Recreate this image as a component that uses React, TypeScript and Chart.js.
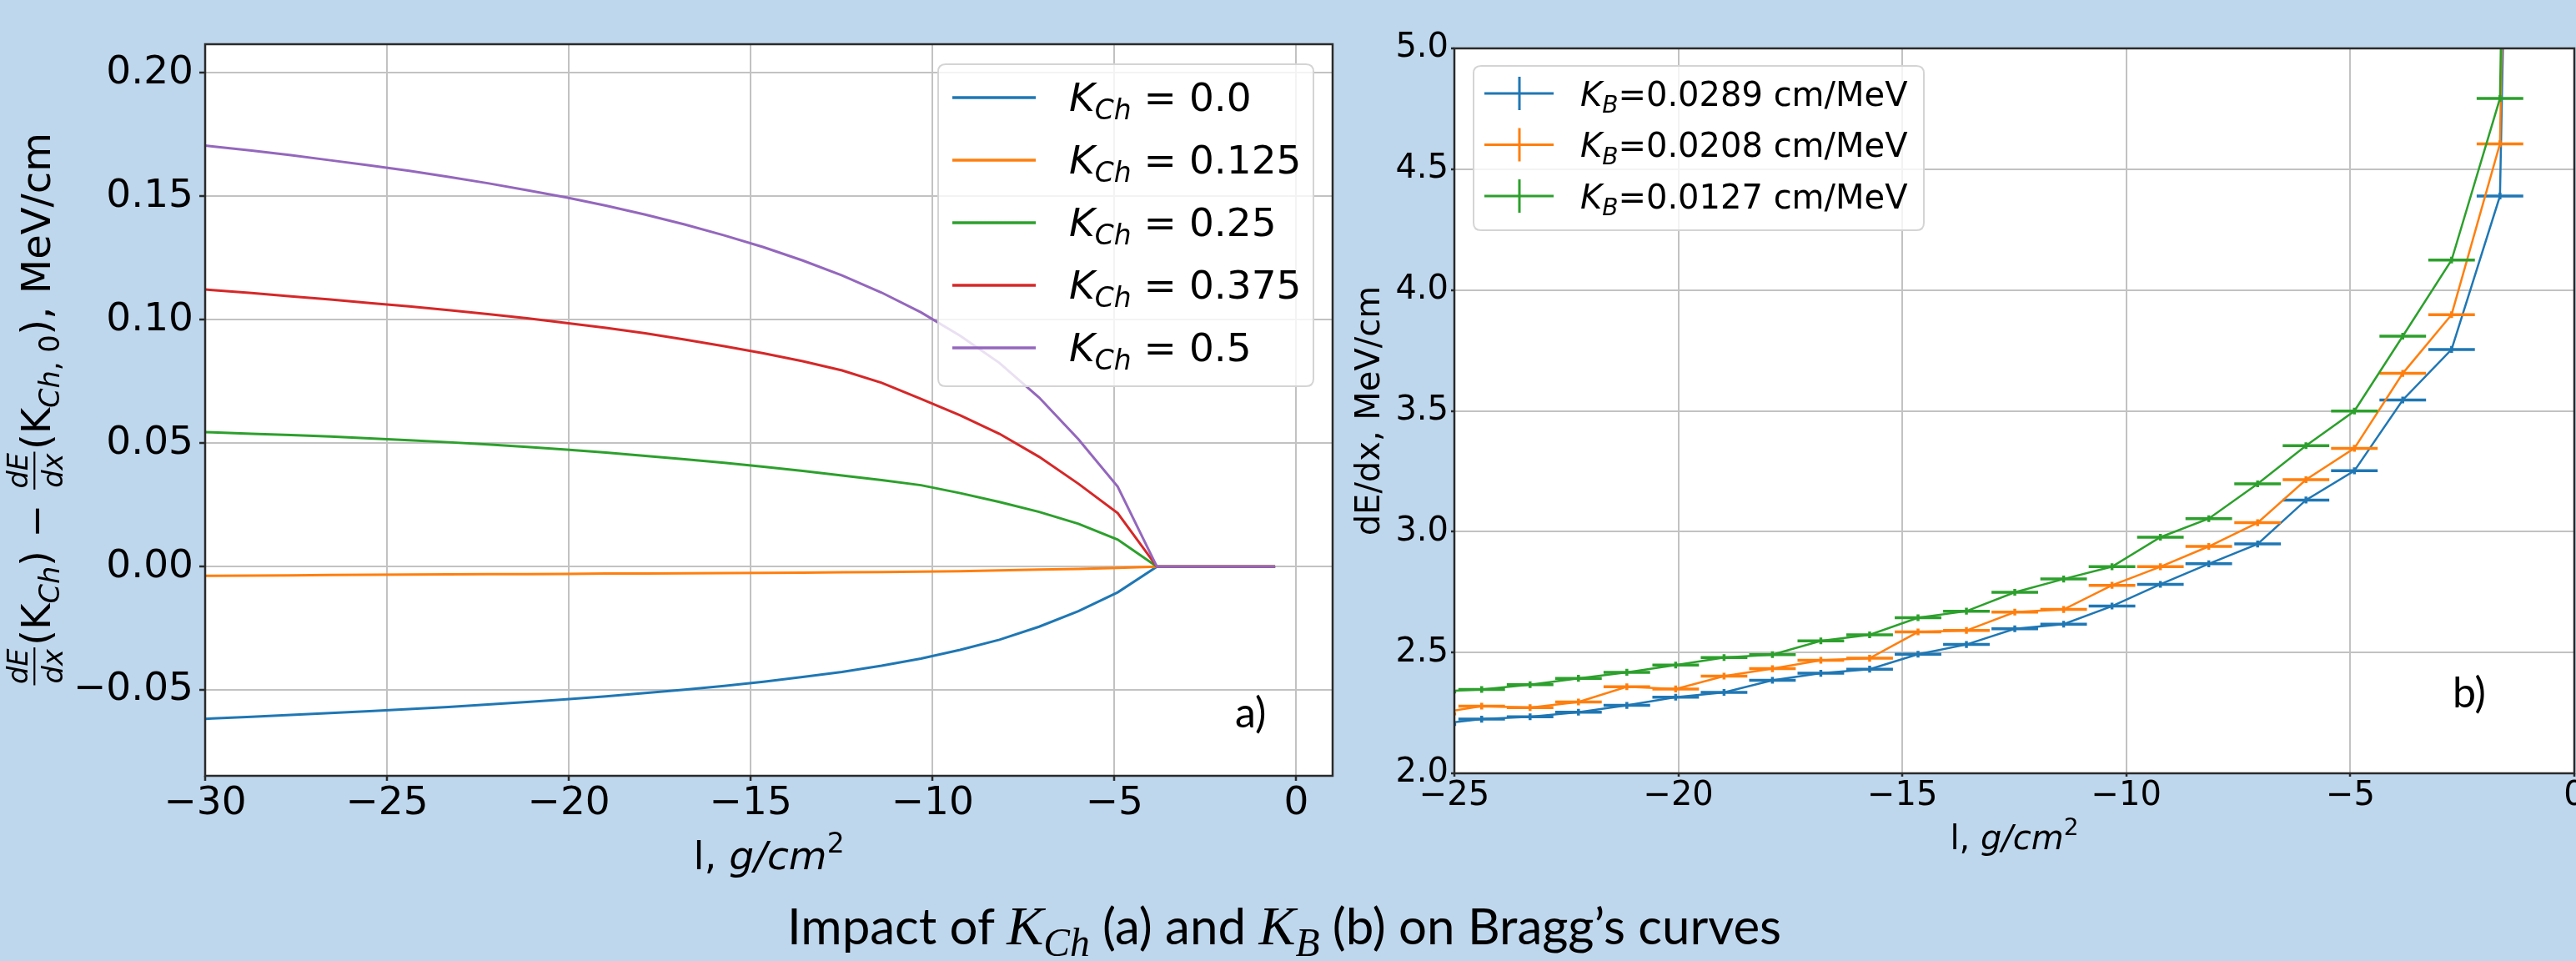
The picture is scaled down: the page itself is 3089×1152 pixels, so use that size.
import React, { useEffect, useRef } from "react";
import { Chart, registerables } from "chart.js";

Chart.register(...registerables);

const BG = "#BFD7ED";
const COLORS = ["#1f77b4", "#ff7f0e", "#2ca02c", "#d62728", "#9467bd"];
const FAM = "'DejaVu Sans'";

// ---------------- Panel a) ----------------
const A_X = [-30.89, -29.8, -28.72, -27.64, -26.56, -25.48, -24.39, -23.31, -22.23, -21.15, -20.06, -18.98, -17.9, -16.82, -15.73, -14.65, -13.57, -12.49, -11.4, -10.32, -9.24, -8.16, -7.07, -5.99, -4.91, -3.83, -2.74, -1.66, -0.58];
const A_KCH_000 = [-0.0622, -0.0615, -0.0608, -0.06, -0.0593, -0.0585, -0.0577, -0.0568, -0.0558, -0.0548, -0.0537, -0.0525, -0.0512, -0.0498, -0.0483, -0.0466, -0.0447, -0.0426, -0.0401, -0.0372, -0.0337, -0.0296, -0.0243, -0.018, -0.0104, 0, 0, 0, 0];
const A_KCH_0125 = [-0.0038, -0.0037, -0.0036, -0.0035, -0.0034, -0.0033, -0.0032, -0.0031, -0.003, -0.003, -0.0029, -0.0028, -0.0028, -0.0027, -0.0026, -0.0025, -0.0024, -0.0023, -0.0022, -0.002, -0.0018, -0.0015, -0.0012, -0.0009, -0.0005, 0, 0, 0, 0];
const A_KCH_025 = [0.0548, 0.0544, 0.0538, 0.0533, 0.0527, 0.052, 0.0512, 0.0504, 0.0495, 0.0485, 0.0474, 0.0462, 0.0449, 0.0435, 0.0421, 0.0405, 0.0388, 0.0369, 0.0351, 0.033, 0.0298, 0.0262, 0.0222, 0.0174, 0.011, 0, 0, 0, 0];
const A_KCH_0375 = [0.1133, 0.112, 0.1108, 0.1095, 0.1082, 0.1068, 0.1054, 0.1039, 0.1023, 0.1006, 0.0987, 0.0967, 0.0945, 0.092, 0.0893, 0.0864, 0.0832, 0.0795, 0.0745, 0.068, 0.0613, 0.0538, 0.0445, 0.0336, 0.0217, 0, 0, 0, 0];
const A_KCH_05 = [0.172, 0.1702, 0.1685, 0.1667, 0.1646, 0.1625, 0.1603, 0.1579, 0.1553, 0.1525, 0.1495, 0.1462, 0.1426, 0.1386, 0.1342, 0.1294, 0.124, 0.118, 0.111, 0.103, 0.0935, 0.0825, 0.0685, 0.0516, 0.0324, 0, 0, 0, 0];
const KCH_LABELS = ["0.0", "0.125", "0.25", "0.375", "0.5"];
const A_X_TICKS = [-30, -25, -20, -15, -10, -5, 0];
const A_X_TICK_LABELS = ["\u221230", "\u221225", "\u221220", "\u221215", "\u221210", "\u22125", "0"];
const A_Y_TICKS = [-0.05, 0, 0.05, 0.1, 0.15, 0.2];
const A_Y_TICK_LABELS = ["\u22120.05", "0.00", "0.05", "0.10", "0.15", "0.20"];

// ---------------- Panel b) ----------------
const B_X = [-25.48, -24.39, -23.31, -22.23, -21.15, -20.06, -18.98, -17.9, -16.82, -15.73, -14.65, -13.57, -12.49, -11.4, -10.32, -9.24, -8.16, -7.07, -5.99, -4.91, -3.83, -2.74, -1.66, -0.58];
const B_KB_0289 = [2.202, 2.224, 2.234, 2.253, 2.281, 2.315, 2.335, 2.385, 2.414, 2.431, 2.493, 2.533, 2.598, 2.617, 2.692, 2.782, 2.867, 2.949, 3.131, 3.252, 3.545, 3.754, 4.389, 14.5];
const B_KB_0208 = [2.246, 2.278, 2.272, 2.295, 2.358, 2.349, 2.402, 2.433, 2.468, 2.476, 2.585, 2.591, 2.667, 2.678, 2.778, 2.855, 2.939, 3.037, 3.215, 3.345, 3.655, 3.898, 4.605, 15.5];
const B_KB_0127 = [2.337, 2.347, 2.367, 2.393, 2.418, 2.448, 2.479, 2.491, 2.548, 2.573, 2.644, 2.671, 2.749, 2.804, 2.855, 2.977, 3.054, 3.198, 3.356, 3.499, 3.809, 4.124, 4.793, 16.5];
const B_X_HALF_WIDTH = 0.52;
const B_Y_ERR = 0.014;
const KB_LABELS = ["0.0289", "0.0208", "0.0127"];
const B_X_TICKS = [-25, -20, -15, -10, -5, 0];
const B_X_TICK_LABELS = ["\u221225", "\u221220", "\u221215", "\u221210", "\u22125", "0"];
const B_Y_TICKS = [2.0, 2.5, 3.0, 3.5, 4.0, 4.5, 5.0];
const B_Y_TICK_LABELS = ["2.0", "2.5", "3.0", "3.5", "4.0", "4.5", "5.0"];

// ---------------- rich text helper ----------------
type Seg = { t?: string; it?: boolean; sub?: boolean; sup?: boolean; num?: string; den?: string };

function segFont(s: Seg, size: number) {
  const sz = s.sub || s.sup ? size * 0.7 : size;
  return `${s.it ? "italic " : ""}${sz}px ${FAM}`;
}
function segW(ctx: CanvasRenderingContext2D, s: Seg, size: number) {
  if (s.num !== undefined) {
    ctx.font = `italic ${size * 0.7}px ${FAM}`;
    return Math.max(ctx.measureText(s.num).width, ctx.measureText(s.den || "").width) + size * 0.16;
  }
  ctx.font = segFont(s, size);
  return ctx.measureText(s.t || "").width;
}
function drawRich(ctx: CanvasRenderingContext2D, segs: Seg[], x: number, y: number, size: number, align: string) {
  const ws = segs.map((s) => segW(ctx, s, size));
  const total = ws.reduce((a, b) => a + b, 0);
  let cx = align === "center" ? x - total / 2 : align === "right" ? x - total : x;
  ctx.save();
  ctx.fillStyle = "#000";
  ctx.strokeStyle = "#000";
  ctx.textAlign = "left";
  ctx.textBaseline = "alphabetic";
  segs.forEach((s, i) => {
    const w = ws[i];
    if (s.num !== undefined) {
      ctx.font = `italic ${size * 0.7}px ${FAM}`;
      const nw = ctx.measureText(s.num).width;
      const dw = ctx.measureText(s.den || "").width;
      ctx.fillText(s.num, cx + (w - nw) / 2, y - 0.56 * size);
      ctx.fillText(s.den || "", cx + (w - dw) / 2, y + 0.31 * size);
      ctx.lineWidth = Math.max(1.5, size * 0.045);
      ctx.beginPath();
      ctx.moveTo(cx + size * 0.05, y - 0.39 * size);
      ctx.lineTo(cx + w - size * 0.05, y - 0.39 * size);
      ctx.stroke();
    } else {
      ctx.font = segFont(s, size);
      const dy = s.sub ? 0.22 * size : s.sup ? -0.42 * size : 0;
      ctx.fillText(s.t || "", cx, y + dy);
    }
    cx += w;
  });
  ctx.restore();
  return total;
}

function roundBox(ctx: CanvasRenderingContext2D, x: number, y: number, w: number, h: number, r: number) {
  ctx.beginPath();
  ctx.moveTo(x + r, y);
  ctx.lineTo(x + w - r, y);
  ctx.quadraticCurveTo(x + w, y, x + w, y + r);
  ctx.lineTo(x + w, y + h - r);
  ctx.quadraticCurveTo(x + w, y + h, x + w - r, y + h);
  ctx.lineTo(x + r, y + h);
  ctx.quadraticCurveTo(x, y + h, x, y + h - r);
  ctx.lineTo(x, y + r);
  ctx.quadraticCurveTo(x, y, x + r, y);
  ctx.closePath();
}

const bgPlugin = {
  id: "plotBg",
  beforeDraw(chart: any) {
    const { ctx, chartArea: a } = chart;
    ctx.save();
    ctx.fillStyle = "#ffffff";
    ctx.fillRect(a.left, a.top, a.right - a.left, a.bottom - a.top);
    ctx.restore();
  },
};

function drawSpines(chart: any) {
  const { ctx, chartArea: a } = chart;
  ctx.save();
  ctx.strokeStyle = "#2a2a2a";
  ctx.lineWidth = 2.5;
  ctx.strokeRect(a.left, a.top, a.right - a.left, a.bottom - a.top);
  ctx.restore();
}

const errorBarPlugin = {
  id: "errorBars",
  afterDatasetDraw(chart: any, args: any) {
    const ds: any = chart.data.datasets[args.index];
    if (!ds.xHalf) return;
    const { ctx, chartArea: a, scales } = chart;
    const xs = scales.x;
    const ys = scales.y;
    ctx.save();
    ctx.beginPath();
    ctx.rect(a.left, a.top, a.right - a.left, a.bottom - a.top);
    ctx.clip();
    ctx.strokeStyle = ds.borderColor;
    ctx.lineWidth = 3.5;
    ds.data.forEach((p: any) => {
      const px = xs.getPixelForValue(p.x);
      const py = ys.getPixelForValue(p.y);
      const x0 = xs.getPixelForValue(p.x - ds.xHalf);
      const x1 = xs.getPixelForValue(p.x + ds.xHalf);
      const y0 = ys.getPixelForValue(p.y - ds.yErr);
      const y1 = ys.getPixelForValue(p.y + ds.yErr);
      ctx.beginPath();
      ctx.moveTo(x0, py);
      ctx.lineTo(x1, py);
      ctx.moveTo(px, y0);
      ctx.lineTo(px, y1);
      ctx.stroke();
    });
    ctx.restore();
  },
};

const decorA = {
  id: "decorA",
  afterDraw(chart: any) {
    const { ctx, chartArea: a } = chart;
    drawSpines(chart);
    const bw = 450, bh = 386;
    const bx = a.right - 23 - bw, by = a.top + 24;
    ctx.save();
    roundBox(ctx, bx, by, bw, bh, 9);
    ctx.fillStyle = "rgba(255,255,255,0.8)";
    ctx.fill();
    ctx.strokeStyle = "#d4d4d4";
    ctx.lineWidth = 2;
    ctx.stroke();
    KCH_LABELS.forEach((lab, i) => {
      const ry = by + 40 + i * 75;
      ctx.strokeStyle = COLORS[i];
      ctx.lineWidth = 3.5;
      ctx.beginPath();
      ctx.moveTo(bx + 17, ry);
      ctx.lineTo(bx + 117, ry);
      ctx.stroke();
      drawRich(ctx, [{ t: "K", it: true }, { t: "Ch", it: true, sub: true }, { t: " = " + lab }], bx + 157, ry + 16, 47, "left");
    });
    ctx.restore();
    ctx.save();
    ctx.fillStyle = "#000";
    ctx.font = "50px Lato";
    ctx.fillText("a)", 1481, 872);
    ctx.restore();
    ctx.save();
    ctx.translate(60, (a.top + a.bottom) / 2);
    ctx.rotate(-Math.PI / 2);
    drawRich(
      ctx,
      [
        { num: "dE", den: "dx" },
        { t: "(K" },
        { t: "Ch", it: true, sub: true },
        { t: ") \u2212 " },
        { num: "dE", den: "dx" },
        { t: "(K" },
        { t: "Ch", it: true, sub: true },
        { t: ", 0", sub: true },
        { t: "), MeV/cm" },
      ],
      0,
      0,
      48,
      "center"
    );
    ctx.restore();
    drawRich(ctx, [{ t: "l, " }, { t: "g/cm", it: true }, { t: "2", sup: true }], (a.left + a.right) / 2, 1042, 47, "center");
  },
};

const decorB = {
  id: "decorB",
  afterDraw(chart: any) {
    const { ctx, chartArea: a } = chart;
    drawSpines(chart);
    const bw = 540, bh = 197;
    const bx = a.left + 23, by = a.top + 21;
    ctx.save();
    roundBox(ctx, bx, by, bw, bh, 9);
    ctx.fillStyle = "rgba(255,255,255,0.8)";
    ctx.fill();
    ctx.strokeStyle = "#d4d4d4";
    ctx.lineWidth = 2;
    ctx.stroke();
    KB_LABELS.forEach((lab, i) => {
      const ry = by + 33 + i * 61.5;
      ctx.strokeStyle = COLORS[i];
      ctx.lineWidth = 3;
      ctx.beginPath();
      ctx.moveTo(bx + 13, ry);
      ctx.lineTo(bx + 96, ry);
      ctx.moveTo(bx + 55, ry - 20);
      ctx.lineTo(bx + 55, ry + 20);
      ctx.stroke();
      drawRich(ctx, [{ t: "K", it: true }, { t: "B", it: true, sub: true }, { t: "=" + lab + " cm/MeV" }], bx + 128, ry + 14.5, 40, "left");
    });
    ctx.restore();
    ctx.save();
    ctx.fillStyle = "#000";
    ctx.font = "50px Lato";
    ctx.fillText("b)", 1336, 848);
    ctx.restore();
    ctx.save();
    ctx.translate(49, (a.top + a.bottom) / 2);
    ctx.rotate(-Math.PI / 2);
    drawRich(ctx, [{ t: "dE/dx, MeV/cm" }], 0, 0, 40, "center");
    ctx.restore();
    drawRich(ctx, [{ t: "l, " }, { t: "g/cm", it: true }, { t: "2", sup: true }], (a.left + a.right) / 2, 1018, 40, "center");
  },
};

function gridOpts(tickLength: number) {
  return { color: "#c2c2c2", lineWidth: 2, drawTicks: true, tickLength, tickColor: "#2a2a2a", tickWidth: 2.5 };
}

function makeConfigA(): any {
  const series = [A_KCH_000, A_KCH_0125, A_KCH_025, A_KCH_0375, A_KCH_05];
  return {
    type: "line",
    data: {
      datasets: series.map((vals, i) => ({
        label: "K_Ch = " + KCH_LABELS[i],
        data: A_X.map((x, j) => ({ x, y: vals[j] })),
        borderColor: COLORS[i],
        backgroundColor: COLORS[i],
        borderWidth: 3,
        pointRadius: 0,
        tension: 0,
        fill: false,
        order: -i,
        clip: 0,
      })),
    },
    options: {
      animation: false,
      responsive: false,
      devicePixelRatio: 1,
      layout: { padding: { top: 53, right: 7, bottom: 0, left: 0 } },
      plugins: { legend: { display: false }, tooltip: { enabled: false }, title: { display: false } },
      scales: {
        x: {
          type: "linear",
          min: -30,
          max: 1,
          afterBuildTicks: (s: any) => {
            s.ticks = A_X_TICKS.map((v) => ({ value: v }));
          },
          afterFit: (s: any) => {
            s.height = 222;
            s.paddingLeft = 0;
            s.paddingRight = 0;
          },
          ticks: {
            callback: (_v: any, i: number) => A_X_TICK_LABELS[i],
            font: { family: "DejaVu Sans", size: 47 },
            color: "#000",
            padding: 0,
            autoSkip: false,
            maxRotation: 0,
          },
          grid: gridOpts(6),
          border: { display: false },
        },
        y: {
          type: "linear",
          min: -0.0847,
          max: 0.2116,
          afterBuildTicks: (s: any) => {
            s.ticks = A_Y_TICKS.map((v) => ({ value: v }));
          },
          afterFit: (s: any) => {
            s.width = 246;
            s.paddingTop = 0;
            s.paddingBottom = 0;
          },
          ticks: {
            callback: (_v: any, i: number) => A_Y_TICK_LABELS[i],
            font: { family: "DejaVu Sans", size: 47 },
            color: "#000",
            padding: 7,
            autoSkip: false,
          },
          grid: gridOpts(7),
          border: { display: false },
        },
      },
    },
    plugins: [bgPlugin, decorA],
  };
}

function makeConfigB(): any {
  const series = [B_KB_0289, B_KB_0208, B_KB_0127];
  return {
    type: "line",
    data: {
      datasets: series.map((vals, i) => ({
        label: "K_B=" + KB_LABELS[i] + " cm/MeV",
        data: B_X.map((x, j) => ({ x, y: vals[j] })),
        borderColor: COLORS[i],
        backgroundColor: COLORS[i],
        borderWidth: 2.5,
        pointRadius: 0,
        tension: 0,
        fill: false,
        order: -i,
        clip: 0,
        xHalf: B_X_HALF_WIDTH,
        yErr: B_Y_ERR,
      })),
    },
    options: {
      animation: false,
      responsive: false,
      devicePixelRatio: 1,
      layout: { padding: { top: 58, right: 2, bottom: 0, left: 0 } },
      plugins: { legend: { display: false }, tooltip: { enabled: false }, title: { display: false } },
      scales: {
        x: {
          type: "linear",
          min: -25,
          max: 0,
          afterBuildTicks: (s: any) => {
            s.ticks = B_X_TICKS.map((v) => ({ value: v }));
          },
          afterFit: (s: any) => {
            s.height = 225;
            s.paddingLeft = 0;
            s.paddingRight = 0;
          },
          ticks: {
            callback: (_v: any, i: number) => B_X_TICK_LABELS[i],
            font: { family: "DejaVu Sans", size: 40 },
            color: "#000",
            padding: 0,
            autoSkip: false,
            maxRotation: 0,
          },
          grid: gridOpts(4),
          border: { display: false },
        },
        y: {
          type: "linear",
          min: 2,
          max: 5,
          afterBuildTicks: (s: any) => {
            s.ticks = B_Y_TICKS.map((v) => ({ value: v }));
          },
          afterFit: (s: any) => {
            s.width = 139;
            s.paddingTop = 0;
            s.paddingBottom = 0;
          },
          ticks: {
            callback: (_v: any, i: number) => B_Y_TICK_LABELS[i],
            font: { family: "DejaVu Sans", size: 40 },
            color: "#000",
            padding: 3,
            autoSkip: false,
          },
          grid: gridOpts(4),
          border: { display: false },
        },
      },
    },
    plugins: [bgPlugin, errorBarPlugin, decorB],
  };
}

const mathStyle: React.CSSProperties = { fontFamily: "'Liberation Serif'", fontStyle: "italic", fontSize: "1.1em" };
const subStyle: React.CSSProperties = { fontSize: "0.72em", position: "relative", top: "0.3em" };

export default function App() {
  const refA = useRef<HTMLCanvasElement>(null);
  const refB = useRef<HTMLCanvasElement>(null);
  useEffect(() => {
    document.body.style.margin = "0";
    document.body.style.overflow = "hidden";
    const ca = new Chart(refA.current as HTMLCanvasElement, makeConfigA());
    const cb = new Chart(refB.current as HTMLCanvasElement, makeConfigB());
    return () => {
      ca.destroy();
      cb.destroy();
    };
  }, []);
  return (
    <div style={{ position: "absolute", left: 0, top: 0, width: 3089, height: 1152, background: BG, overflow: "hidden" }}>
      <canvas ref={refA} width={1605} height={1152} style={{ position: "absolute", left: 0, top: 0, width: 1605, height: 1152 }} />
      <canvas ref={refB} width={1484} height={1152} style={{ position: "absolute", left: 1605, top: 0, width: 1484, height: 1152 }} />
      <div
        style={{
          position: "absolute",
          left: 1540,
          top: 1079,
          transform: "translateX(-50%)",
          whiteSpace: "nowrap",
          fontFamily: "Lato",
          fontSize: 60,
          lineHeight: "60px",
          color: "#000",
        }}
      >
        Impact of <span style={mathStyle}>K<span style={subStyle}>Ch</span></span> (a) and{" "}
        <span style={mathStyle}>K<span style={subStyle}>B</span></span> (b) on Bragg’s curves
      </div>
    </div>
  );
}
